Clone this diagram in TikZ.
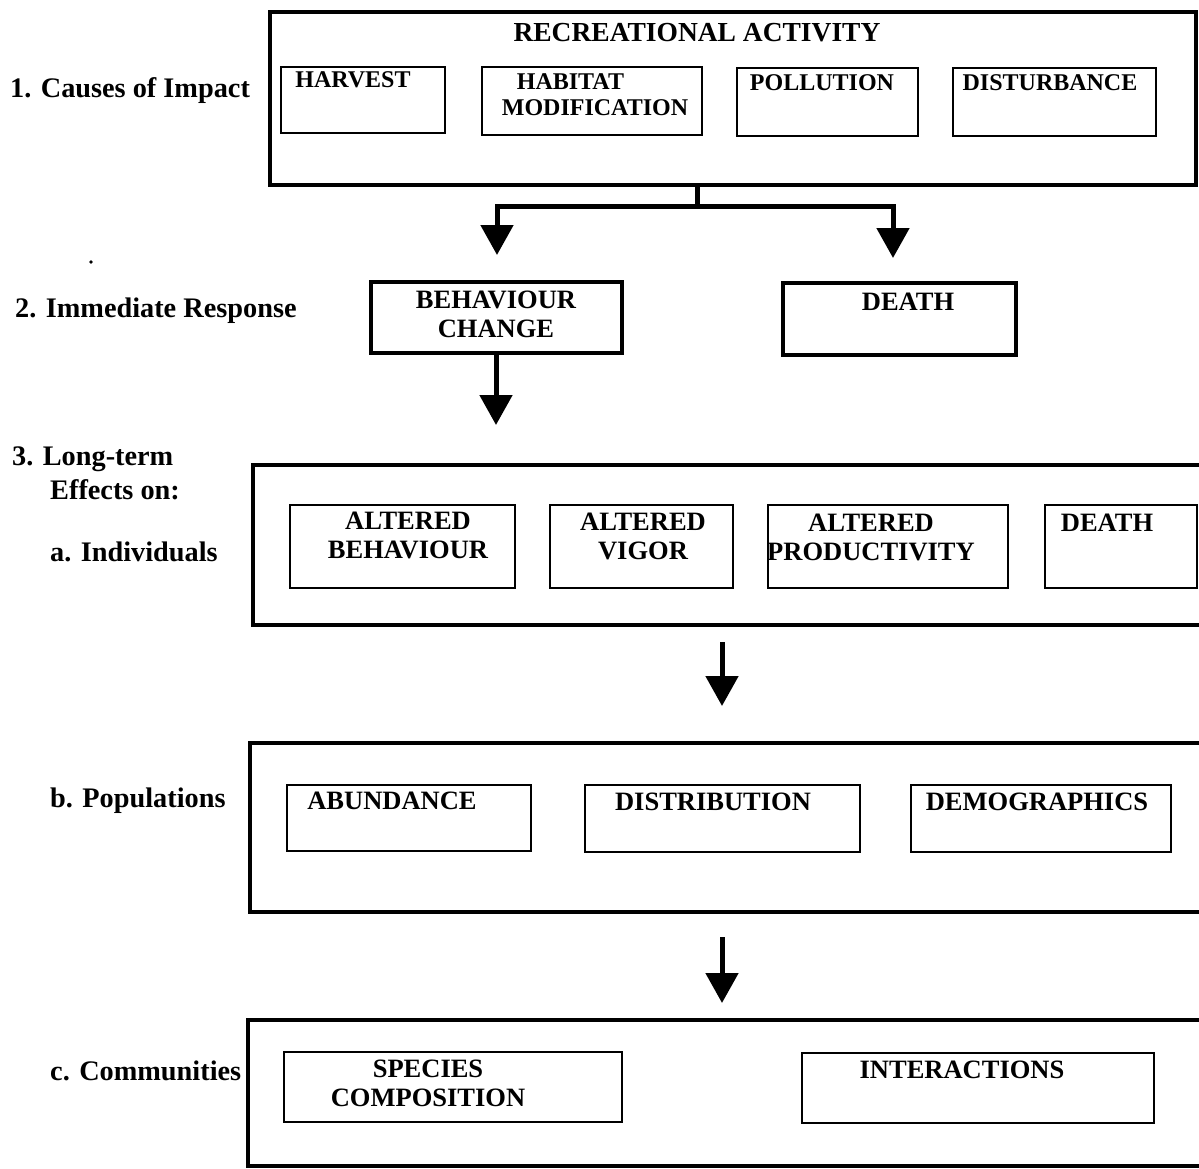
\documentclass[tikz,border=0pt]{standalone}
\usepackage{fontspec}
\setmainfont{Liberation Serif}
\usetikzlibrary{arrows.meta,fit,positioning}
\tikzset{
    outerbox/.style={draw=black, line width=4pt, inner sep=0pt},
    innerbox/.style={draw=black, line width=2.5pt, inner sep=0pt},
    respbox/.style={draw=black, line width=3.5pt, inner sep=0pt},
    boxtext/.style={font=\fontsize{26.5}{29}\selectfont\bfseries, align=center, inner sep=0pt},
    causetext/.style={font=\fontsize{24}{26}\selectfont\bfseries, align=center, inner sep=0pt},
    leveltext/.style={font=\fontsize{28.3}{32}\selectfont\bfseries, anchor=base west, inner sep=0pt},
    flowline/.style={draw=black, line width=5pt},
    flow/.style={flowline, -{Triangle[width=32pt,length=30pt]}},
}
\begin{document}
\begin{tikzpicture}[x=1pt, y=-1pt]
	\useasboundingbox (0,0) rectangle (1199,1169);
	\clip (0,0) rectangle (1199,1169);
	% level labels
	\node[leveltext] (lvlcauses) at (10,98) {1. Causes of Impact};
	\node[leveltext] (lvlresp) at (15,317) {2. Immediate Response};
	\node[leveltext] (lvllong) at (12,465) {3. Long-term};
	\node[leveltext] (lvleffects) at (50,499) {Effects on:};
	\node[leveltext] (lvlind) at (50,561) {a. Individuals};
	\node[leveltext] (lvlpop) at (50,807) {b. Populations};
	\node[leveltext] (lvlcom) at (50,1080) {c. Communities};
	\fill (91,262) circle (1.8pt);
	% 1. causes
	\node[outerbox, fit={(270,12) (1196,185)}] (activity) {};
	\node[boxtext, font=\fontsize{27.5}{30}\selectfont\bfseries] (activitytxt) at (697,33) {RECREATIONAL ACTIVITY};
	\node[innerbox, fit={(281,67) (445,133)}] (harvest) {};
	\node[innerbox, fit={(482,67) (702,135)}] (habitat) {};
	\node[innerbox, fit={(737,68) (918,136)}] (pollution) {};
	\node[innerbox, fit={(953,68) (1156,136)}] (disturb) {};
	\node[causetext] (harvesttxt) at (353,80) {HARVEST};
	\node[causetext, align=left] (habitattxt) at (595,95) {\hspace*{15pt}HABITAT\\MODIFICATION};
	\node[causetext] (pollutiontxt) at (822,83) {POLLUTION};
	\node[causetext] (disturbtxt) at (1050,83) {DISTURBANCE};
	% 2. immediate response
	\node[respbox, fit={(371,282) (622,353)}] (behav) {};
	\node[respbox, fit={(783,283) (1016,355)}] (death) {};
	\node[boxtext] (behavtxt) at (496,314) {BEHAVIOUR\\CHANGE};
	\node[boxtext] (deathtxt) at (908,302) {DEATH};
	\coordinate (split) at (697,207);
	\coordinate (tipbehav) at (497,255);
	\coordinate (tipdeath) at (893,258);
	\draw[flowline] (activity.south -| split) -- (split);
	\draw[flow] (split) -| (tipbehav);
	\draw[flow] (split) -| (tipdeath);
	\coordinate (tiplong) at (496,425);
	\draw[flow] (behav.south -| tiplong) -- (tiplong);
	% 3a. individuals
	\node[outerbox, fit={(253,465) (1210,625)}] (indiv) {};
	\node[innerbox, fit={(290,505) (515,588)}] (altbehav) {};
	\node[innerbox, fit={(550,505) (733,588)}] (altvigor) {};
	\node[innerbox, fit={(768,505) (1008,588)}] (altprod) {};
	\node[innerbox, fit={(1045,505) (1197,588)}] (inddeath) {};
	\node[boxtext] (altbehavtxt) at (408,535) {ALTERED\\BEHAVIOUR};
	\node[boxtext] (altvigortxt) at (643,536) {ALTERED\\VIGOR};
	\node[boxtext] (altprodtxt) at (871,537) {ALTERED\\PRODUCTIVITY};
	\node[boxtext] (inddeathtxt) at (1107,523) {DEATH};
	\coordinate (tippop) at (722,706);
	\draw[flow, shorten <=15pt] (indiv.south -| tippop) -- (tippop);
	% 3b. populations
	\node[outerbox, fit={(250,743) (1210,912)}] (popul) {};
	\node[innerbox, fit={(287,785) (531,851)}] (abund) {};
	\node[innerbox, fit={(585,785) (860,852)}] (distrib) {};
	\node[innerbox, fit={(911,785) (1171,852)}] (demog) {};
	\node[boxtext] (abundtxt) at (392,801) {ABUNDANCE};
	\node[boxtext] (distribtxt) at (713,802) {DISTRIBUTION};
	\node[boxtext] (demogtxt) at (1037,802) {DEMOGRAPHICS};
	\coordinate (tipcom) at (722,1003);
	\draw[flow, shorten <=23pt] (popul.south -| tipcom) -- (tipcom);
	% 3c. communities
	\node[outerbox, fit={(248,1020) (1210,1166)}] (commun) {};
	\node[innerbox, fit={(284,1052) (622,1122)}] (species) {};
	\node[innerbox, fit={(802,1053) (1154,1123)}] (interact) {};
	\node[boxtext] (speciestxt) at (428,1083) {SPECIES\\COMPOSITION};
	\node[boxtext] (interacttxt) at (962,1070) {INTERACTIONS};
\end{tikzpicture}
\end{document}
